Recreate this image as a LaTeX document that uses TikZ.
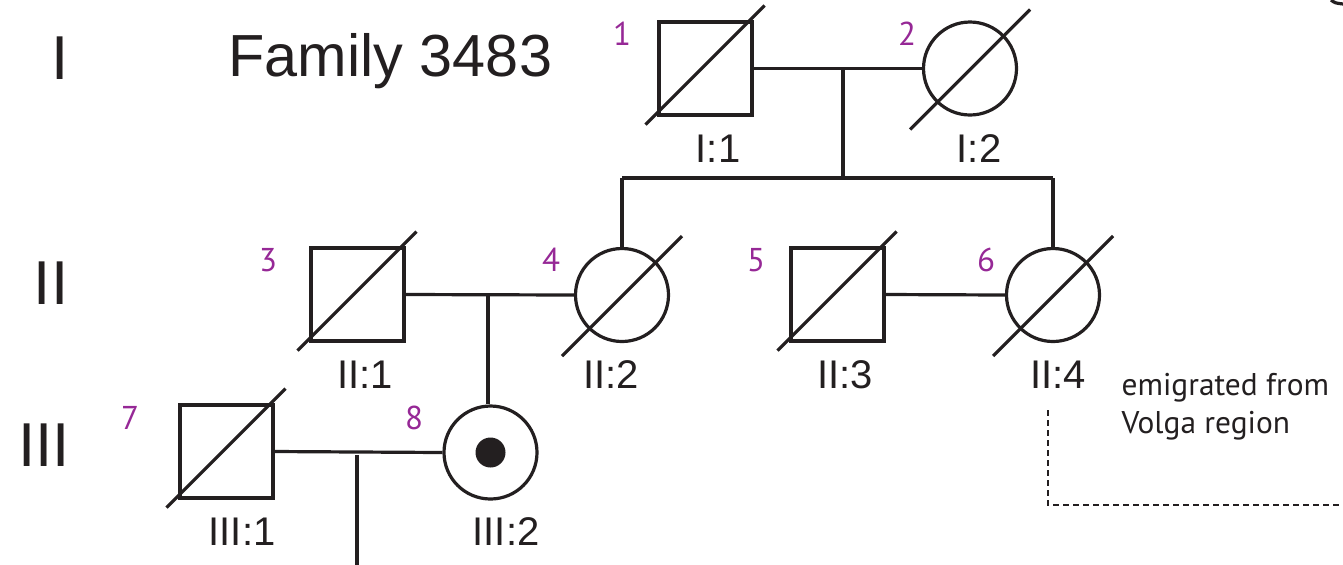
\documentclass[tikz,border=0pt]{standalone}
\usepackage{fontspec}
\setmainfont{Liberation Sans}
\newfontfamily\myr{PT Sans}
\definecolor{numpurple}{RGB}{150,40,150}
\definecolor{ink}{RGB}{35,31,32}
\begin{document}
\begin{tikzpicture}[x=0.5pt,y=-0.5pt,
  line width=1.6pt, draw=ink,
  male/.style={draw=ink, rectangle, minimum size=46.5pt, inner sep=0pt, line width=1.6pt},
  female/.style={draw=ink, circle, minimum size=46.5pt, inner sep=0pt, line width=1.6pt},
  slash/.style={draw=ink, line width=1.6pt},
  lab/.style={inner sep=0pt, anchor=base, text=ink, font=\fontsize{20}{24}\selectfont},
  num/.style={inner sep=0pt, text=numpurple, font=\myr\fontsize{16.5}{19}\selectfont},
  gen/.style={inner sep=0pt, anchor=base, text=ink, font=\fontsize{31}{36}\selectfont},
  note/.style={inner sep=0pt, anchor=base west, text=ink, font=\myr\fontsize{15.7}{19}\selectfont},
  conn/.style={draw=ink, line width=1.6pt},
  dotline/.style={draw=ink, line width=1.2pt, dash pattern=on 3pt off 2pt}
]
\useasboundingbox (0,0) rectangle (1343,564);

% generation labels and title
\node[gen] (gI) at (60,79) {I};
\node[gen] (gII) at (51,304) {II};
\node[gen] (gIII) at (44,466) {III};
\node[gen, anchor=base west, font=\fontsize{29.7}{34}\selectfont] (title) at (227,76) {Family 3483};

% generation I
\node[male] (I1) at (705.5,68.5) {};
\node[female] (I2) at (970,68.5) {};
% generation II
\node[male] (II1) at (357.5,294.5) {};
\node[female] (II2) at (622,295) {};
\node[male] (II3) at (837.5,294.5) {};
\node[female] (II4) at (1053,295) {};
% generation III
\node[male] (III1) at (226.5,451.5) {};
\node[female] (III2) at (490.5,452.5) {};
\fill[ink] (III2.center) circle (7.5pt);

% deceased slashes
\foreach \n in {I1,II1,II3,III1}
  \draw[slash] ([shift={(-60,56)}]\n.center) -- ([shift={(59,-63)}]\n.center);
\foreach \n in {I2,II2,II4}
  \draw[slash] ([shift={(-60,61)}]\n.center) -- ([shift={(60,-59)}]\n.center);

% individual labels
\node[lab] (lI1) at (718,162) {I:1};
\node[lab] (lI2) at (979,162) {I:2};
\node[lab] (lII1) at (365,388) {II:1};
\node[lab] (lII2) at (611,388) {II:2};
\node[lab] (lII3) at (845,388) {II:3};
\node[lab] (lII4) at (1058,388) {II:4};
\node[lab] (lIII1) at (242,545) {III:1};
\node[lab] (lIII2) at (506,545) {III:2};

% numbers
\node[num] (n1) at (622,34) {1};
\node[num] (n2) at (907,34) {2};
\node[num] (n3) at (268,260) {3};
\node[num] (n4) at (551,260) {4};
\node[num] (n5) at (756,260) {5};
\node[num] (n6) at (986,260) {6};
\node[num] (n7) at (130,418) {7};
\node[num] (n8) at (414,418) {8};

% connectors generation I
\coordinate (m1) at (843,68.5);
\coordinate (s1) at (843,178);
\draw[conn] (I1.east) -- (I2.west);
\draw[conn] (m1) -- (s1);
\draw[conn] (II2.north |- s1) -- (II4.north |- s1);
\draw[conn] (II2.north |- s1) -- (II2.north);
\draw[conn] (II4.north |- s1) -- (II4.north);

% connectors generation II
\coordinate (m2) at (488,294.5);
\draw[conn] (II1.east) -- (II2.west);
\draw[conn] (m2) -- (m2 |- III2.north);
\draw[conn] (II3.east) -- (II4.west);

% connectors generation III
\coordinate (m3) at (357,455);
\coordinate (c3) at (357,566);
\draw[conn] (III1.east) -- (III2.west);
\draw[conn] (m3) -- (c3);

% note and dotted line
\node[note] (note1) at (1120,395) {emigrated from};
\node[note] (note2) at (1120,433) {Volga region};
\coordinate (d1) at (1048,410);
\coordinate (d2) at (1048,505);
\coordinate (d3) at (1343,505);
\draw[dotline] (d1) -- (d2) -- (d3);

% fragment at the top right edge
\draw[conn] (1331,0) .. controls (1335,3) .. (1343,4);
\end{tikzpicture}
\end{document}
